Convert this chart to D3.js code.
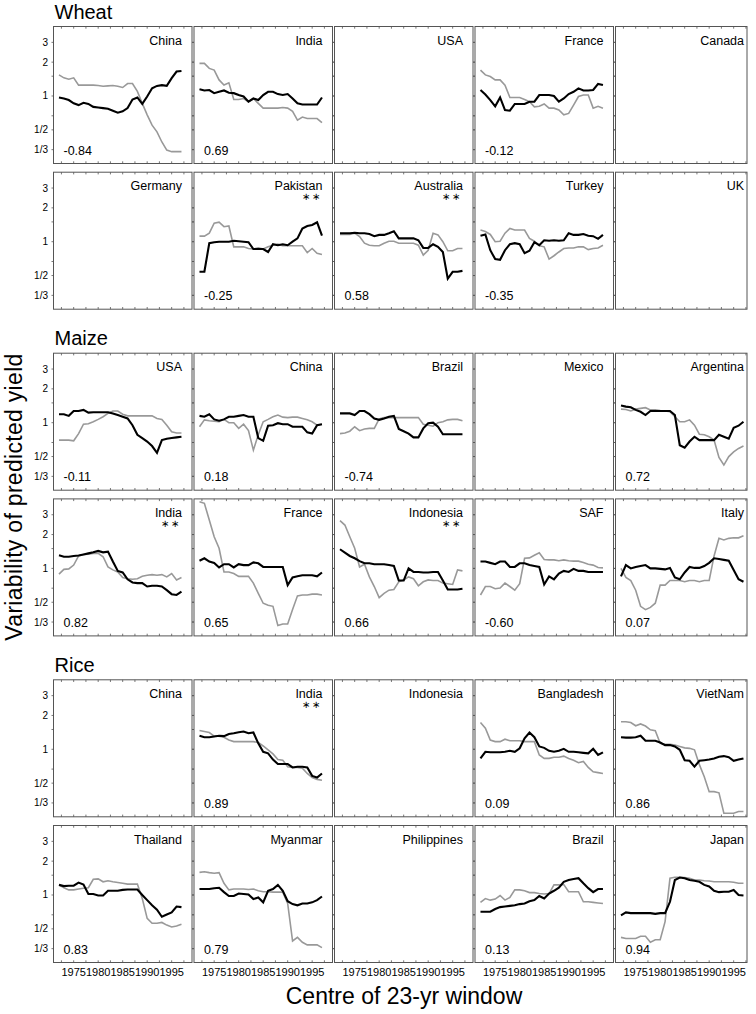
<!DOCTYPE html>
<html>
<head>
<meta charset="utf-8">
<script src="https://cdn.jsdelivr.net/npm/d3@7"></script>
<style>
  body { margin: 0; background: #fff; }
  text { font-family: "Liberation Sans", Arial, Helvetica, sans-serif; fill: #000; }
</style>
</head>
<body>
<div id="chart"></div>
<script>
// ---- data ----
const YEARS = d3.range(1972, 1998);           // centre of 23-yr window
const CROPS = ["Wheat", "Maize", "Rice"];

const wheatCountries = ["China","India","USA","France","Canada","Germany","Pakistan","Australia","Turkey","UK"];
const maizeCountries = ["USA","China","Brazil","Mexico","Argentina","India","France","Indonesia","SAF","Italy"];
const riceCountries  = ["China","India","Indonesia","Bangladesh","VietNam","Thailand","Myanmar","Philippines","Brazil","Japan"];

const wheatCorr = ["-0.84","0.69",null,"-0.12",null,null,"-0.25","0.58","-0.35",null];
const maizeCorr = ["-0.11","0.18","-0.74",null,"0.72","0.82","0.65","0.66","-0.60","0.07"];
const riceCorr  = [null,"0.89",null,"0.09","0.86","0.83","0.79",null,"0.13","0.94"];

const wheatStars = ["Pakistan","Australia"];
const maizeStars = ["India","Indonesia"];
const riceStars  = ["India"];

const wheatBlack = {
  China:    [0.97,0.95,0.92,0.86,0.83,0.87,0.85,0.80,0.79,0.78,0.77,0.74,0.71,0.73,0.78,0.93,0.97,0.85,0.99,1.17,1.23,1.25,1.23,1.44,1.65,1.67],
  India:    [1.15,1.12,1.13,1.06,1.09,1.12,1.07,1.06,1.02,0.99,0.89,0.95,0.92,1.02,1.09,1.09,1.04,1.02,1.04,0.95,0.86,0.84,0.84,0.84,0.84,0.97],
  France:   [1.13,1.03,0.92,0.81,0.97,0.75,0.74,0.85,0.85,0.85,0.89,0.89,1.02,1.02,1.02,1.00,0.89,0.95,1.04,1.09,1.17,1.12,1.12,1.13,1.28,1.25],
  Pakistan: [0.54,0.54,0.97,0.99,1.00,1.00,1.00,1.02,1.01,1.00,0.99,0.86,0.86,0.86,0.81,0.95,0.93,0.95,0.93,1.00,1.07,1.31,1.38,1.41,1.49,1.13],
  Australia:[1.19,1.19,1.19,1.20,1.19,1.19,1.17,1.12,1.15,1.15,1.19,1.24,1.07,1.07,1.07,1.07,1.03,0.88,0.88,0.95,0.90,0.81,0.47,0.54,0.54,0.55],
  Turkey:   [1.13,1.16,0.84,0.70,0.69,0.84,0.95,0.97,0.95,0.79,0.83,0.99,0.93,1.03,1.02,1.03,1.02,1.03,1.19,1.15,1.15,1.17,1.13,1.12,1.06,1.15]
};
const wheatGrey = {
  China:    [1.54,1.45,1.41,1.45,1.25,1.25,1.25,1.25,1.24,1.22,1.23,1.24,1.22,1.19,1.29,1.29,1.10,0.86,0.68,0.55,0.48,0.39,0.33,0.32,0.32,0.32],
  India:    [1.95,1.95,1.76,1.70,1.39,1.25,1.31,0.93,0.93,0.95,0.89,0.95,0.86,0.78,0.78,0.78,0.78,0.79,0.78,0.73,0.61,0.65,0.63,0.63,0.63,0.58],
  France:   [1.70,1.54,1.49,1.39,1.39,1.25,0.97,0.97,0.97,0.93,0.89,0.80,0.81,0.85,0.78,0.78,0.75,0.68,0.70,0.83,0.99,1.02,1.02,0.78,0.81,0.78],
  Pakistan: [1.12,1.12,1.19,1.46,1.49,1.36,1.38,0.90,0.90,0.90,0.87,0.86,0.88,0.86,0.90,0.93,0.95,0.92,0.92,0.92,0.92,0.92,0.80,0.87,0.79,0.77],
  Australia:[1.16,1.16,1.16,1.19,1.11,0.97,0.93,0.92,0.92,0.97,1.01,1.01,0.97,0.97,0.97,0.97,0.93,0.76,0.84,1.19,1.15,1.00,0.83,0.83,0.87,0.87],
  Turkey:   [1.27,1.23,1.16,1.00,1.01,1.19,1.31,1.27,1.27,1.27,1.07,1.01,0.92,0.90,0.70,0.75,0.81,0.87,0.88,0.88,0.90,0.90,0.85,0.87,0.88,0.93]
};

const maizeBlack = {
  USA:       [1.19,1.19,1.15,1.27,1.27,1.30,1.23,1.24,1.24,1.24,1.24,1.21,1.17,1.13,1.09,0.95,0.78,0.73,0.68,0.62,0.54,0.70,0.72,0.73,0.74,0.75],
  China:     [1.15,1.13,1.19,1.07,1.04,1.07,1.13,1.13,1.15,1.17,1.13,1.13,0.73,0.69,0.94,0.95,0.99,0.97,0.97,0.92,0.92,0.92,0.82,0.80,0.95,0.97],
  Brazil:    [1.21,1.21,1.21,1.17,1.27,1.27,1.19,1.09,1.06,1.09,1.13,1.15,0.88,0.84,0.80,0.74,0.74,0.89,0.99,1.00,0.92,0.79,0.79,0.79,0.79,0.79],
  Argentina: [1.42,1.39,1.37,1.30,1.25,1.17,1.27,1.27,1.27,1.27,1.27,1.17,0.63,0.60,0.68,0.75,0.70,0.70,0.70,0.70,0.78,0.75,0.72,0.90,0.94,1.02],
  India:     [1.31,1.27,1.27,1.29,1.30,1.33,1.36,1.39,1.43,1.39,1.41,1.15,0.95,0.92,0.80,0.75,0.74,0.74,0.69,0.70,0.70,0.69,0.64,0.59,0.58,0.62],
  France:    [1.17,1.23,1.15,1.12,1.02,1.09,1.09,1.02,1.09,1.07,1.07,1.13,1.11,1.03,1.03,1.03,1.03,1.03,0.71,0.83,0.85,0.87,0.87,0.87,0.85,0.92],
  Indonesia: [1.48,1.38,1.29,1.23,1.16,1.11,1.11,1.09,1.09,1.09,1.07,1.05,0.78,0.78,1.00,0.93,0.93,0.92,0.92,0.93,0.93,0.78,0.65,0.65,0.65,0.66],
  SAF:       [1.15,1.15,1.12,1.09,1.15,1.15,1.03,1.03,1.11,1.11,1.07,1.05,1.03,0.72,0.85,0.80,0.90,0.95,0.93,0.99,0.95,0.95,0.93,0.93,0.93,0.93],
  Italy:     [0.85,1.07,1.00,1.03,1.05,1.07,1.00,1.00,0.99,0.98,1.01,0.83,0.80,0.92,1.03,1.01,1.01,1.05,1.12,1.23,1.21,1.19,1.17,0.97,0.80,0.76]
};
const maizeGrey = {
  USA:       [0.70,0.70,0.70,0.69,0.80,0.97,0.98,1.02,1.07,1.13,1.21,1.27,1.27,1.19,1.15,1.15,1.15,1.15,1.15,1.15,1.09,1.07,0.95,0.83,0.81,0.81],
  China:     [0.92,1.06,1.04,1.03,1.02,1.07,1.00,1.00,0.89,0.97,0.85,0.57,0.78,1.02,1.07,1.13,1.17,1.12,1.11,1.12,1.12,1.09,1.06,1.02,0.95,0.97],
  Brazil:    [0.80,0.81,0.84,0.92,0.85,0.88,0.89,0.89,1.08,1.11,1.11,1.11,1.11,1.11,1.11,1.11,1.11,0.97,0.95,0.93,1.00,1.02,1.06,1.07,1.07,1.04],
  Argentina: [1.32,1.31,1.27,1.32,1.34,1.36,1.30,1.30,1.28,1.27,1.25,1.13,1.02,1.02,1.06,0.95,0.79,0.78,0.75,0.70,0.49,0.42,0.50,0.55,0.59,0.62],
  India:     [0.89,0.98,0.99,1.07,1.29,1.33,1.34,1.36,1.36,1.27,1.03,0.97,0.93,0.83,0.81,0.80,0.81,0.85,0.87,0.88,0.87,0.88,0.84,0.90,0.79,0.83],
  France:    [3.92,3.79,2.69,1.91,1.51,0.93,0.93,0.90,0.85,0.85,0.85,0.74,0.60,0.49,0.47,0.46,0.31,0.32,0.32,0.43,0.57,0.58,0.58,0.59,0.59,0.58],
  Indonesia: [2.66,2.43,1.91,1.51,1.03,1.09,0.84,0.69,0.55,0.60,0.64,0.65,0.76,0.79,0.84,0.81,0.70,0.76,0.79,0.78,0.78,0.74,0.73,0.72,0.97,0.95],
  SAF:       [0.58,0.69,0.69,0.66,0.67,0.74,0.69,0.64,0.73,1.23,1.24,1.31,1.38,1.20,1.19,1.19,1.17,1.19,1.17,1.16,1.16,1.13,1.09,1.07,1.02,1.01],
  Italy:     [1.00,0.83,0.78,0.64,0.46,0.43,0.45,0.49,0.71,0.71,0.78,0.78,0.78,0.76,0.78,0.78,0.76,0.78,0.78,1.29,1.85,1.79,1.85,1.87,1.87,1.95]
};

const riceBlack = {
  India:      [1.32,1.28,1.28,1.30,1.32,1.31,1.37,1.39,1.42,1.44,1.39,1.41,1.13,0.95,0.92,0.81,0.74,0.74,0.74,0.69,0.70,0.70,0.69,0.58,0.56,0.61],
  Bangladesh: [0.83,0.95,0.94,0.94,0.94,0.95,0.97,0.95,1.02,1.25,1.41,1.28,1.06,1.03,0.97,0.95,0.97,1.01,0.95,0.95,0.94,0.93,0.92,1.01,0.89,0.94],
  VietNam:    [1.28,1.27,1.27,1.28,1.32,1.19,1.19,1.19,1.15,1.09,1.09,1.06,0.99,0.80,0.79,0.70,0.79,0.80,0.81,0.83,0.86,0.87,0.85,0.79,0.81,0.83],
  Thailand:   [1.23,1.20,1.21,1.21,1.29,1.24,1.02,1.02,0.99,0.99,1.09,1.09,1.09,1.11,1.12,1.12,1.12,1.00,0.90,0.81,0.74,0.64,0.67,0.70,0.79,0.78],
  Myanmar:    [1.13,1.13,1.13,1.15,1.16,1.06,0.98,0.98,1.03,1.02,1.01,0.92,0.95,0.86,1.09,1.13,1.23,1.09,0.88,0.83,0.81,0.84,0.84,0.86,0.90,0.97],
  Brazil:     [0.71,0.71,0.71,0.75,0.78,0.79,0.80,0.81,0.83,0.84,0.88,0.90,0.98,0.93,1.03,1.09,1.16,1.31,1.36,1.39,1.41,1.27,1.15,1.06,1.13,1.13],
  Japan:      [0.66,0.70,0.69,0.69,0.69,0.69,0.69,0.68,0.69,0.69,0.87,1.36,1.43,1.41,1.36,1.34,1.31,1.23,1.19,1.09,1.06,1.07,1.07,1.11,1.00,0.99]
};
const riceGrey = {
  India:      [1.47,1.44,1.41,1.31,1.31,1.28,1.21,1.17,1.17,1.17,1.17,1.17,1.15,1.07,0.99,0.91,0.81,0.80,0.70,0.69,0.69,0.68,0.61,0.56,0.54,0.53],
  Bangladesh: [1.73,1.54,1.21,1.17,1.17,1.23,1.19,1.19,1.19,1.17,1.17,1.17,0.89,0.83,0.83,0.85,0.85,0.87,0.83,0.80,0.76,0.78,0.69,0.63,0.62,0.61],
  VietNam:    [1.76,1.76,1.73,1.62,1.68,1.61,1.49,1.46,1.13,1.11,1.11,1.09,1.06,1.03,1.02,0.99,0.73,0.57,0.42,0.42,0.41,0.27,0.27,0.27,0.28,0.28],
  Thailand:   [1.23,1.16,1.11,1.11,1.13,1.15,1.16,1.38,1.39,1.31,1.34,1.31,1.29,1.27,1.25,1.25,1.25,0.93,0.62,0.56,0.56,0.57,0.54,0.52,0.53,0.55],
  Myanmar:    [1.59,1.61,1.58,1.56,1.58,1.27,1.11,1.13,1.13,1.13,1.12,1.13,1.09,1.07,1.07,1.06,1.06,1.06,0.84,0.39,0.42,0.38,0.36,0.36,0.36,0.34],
  Brazil:     [0.86,0.93,0.90,0.92,0.99,0.90,0.95,1.11,1.11,1.09,1.05,1.05,1.03,1.02,1.03,1.23,1.23,1.24,1.07,1.07,1.07,0.87,0.87,0.86,0.85,0.84],
  Japan:      [0.42,0.41,0.41,0.41,0.43,0.43,0.38,0.40,0.40,0.58,1.41,1.44,1.44,1.43,1.41,1.36,1.36,1.34,1.33,1.31,1.31,1.31,1.31,1.30,1.27,1.27]
};

const Y_TICKS = [1/3, 1/2, 1, 2, 3];
const Y_TICK_LABELS = ["1/3", "1/2", "1", "2", "3"];
const Y_MINOR = [2/3, 3/2];
const X_TICKS = d3.range(1972.5, 1998, 2.5);
const X_LABELS = [1975, 1980, 1985, 1990, 1995];

// ---- layout ----
const WIDTH = 756, HEIGHT = 1014;
const LEFT0 = 53.5, COL_PITCH = 140.5, PANEL_W = 138.5, PANEL_H = 137;
const BLOCK_TOP = [26.5, 353.2, 679.8];
const ROW_OFFSET = 145.7;
const LAST_COL_W = 131.5;   // right-most column is cut off in the reference

const blocks = [
  {name: CROPS[0], countries: wheatCountries, corr: wheatCorr, stars: wheatStars, black: wheatBlack, grey: wheatGrey},
  {name: CROPS[1], countries: maizeCountries, corr: maizeCorr, stars: maizeStars, black: maizeBlack, grey: maizeGrey},
  {name: CROPS[2], countries: riceCountries,  corr: riceCorr,  stars: riceStars,  black: riceBlack,  grey: riceGrey}
];

const svg = d3.select("#chart").append("svg")
  .attr("width", WIDTH).attr("height", HEIGHT);

const x = d3.scaleLinear().domain([1970.88, 1999.15]).range([0, PANEL_W]);
const y = d3.scaleLog().domain([0.251, 4.15]).range([PANEL_H, 0]);

const line = d3.line()
  .x((d, i) => x(YEARS[i]))
  .y(d => y(d));

const defs = svg.append("defs");
[PANEL_W, LAST_COL_W].forEach((w, i) => {
  defs.append("clipPath").attr("id", "clip" + i)
    .append("rect").attr("width", w).attr("height", PANEL_H);
});

blocks.forEach((b, bi) => {
  svg.append("text")
    .attr("x", LEFT0 + 1).attr("y", BLOCK_TOP[bi] - 8)
    .style("font-size", "20px")
    .text(b.name);

  b.countries.forEach((c, k) => {
    const row = Math.floor(k / 5), col = k % 5;
    const last = col === 4;
    const fw = last ? LAST_COL_W : PANEL_W;
    const isBottom = bi === 2 && row === 1;
    const g = svg.append("g")
      .attr("transform", "translate(" + (LEFT0 + col * COL_PITCH) + "," +
            (BLOCK_TOP[bi] + row * ROW_OFFSET) + ")");

    // x ticks, inward on top and bottom
    X_TICKS.forEach(t => {
      g.append("line").attr("x1", x(t)).attr("x2", x(t)).attr("y1", 0).attr("y2", 2.2)
        .attr("stroke", "#555").attr("stroke-width", 0.8);
      g.append("line").attr("x1", x(t)).attr("x2", x(t)).attr("y1", PANEL_H).attr("y2", PANEL_H - 2.2)
        .attr("stroke", "#555").attr("stroke-width", 0.8);
    });
    // y ticks, outward on left (and right)
    Y_TICKS.concat(Y_MINOR).forEach(t => {
      g.append("line").attr("x1", -2).attr("x2", 0).attr("y1", y(t)).attr("y2", y(t))
        .attr("stroke", "#555").attr("stroke-width", 0.8);
      if (!last) {
        g.append("line").attr("x1", fw).attr("x2", fw + 2).attr("y1", y(t)).attr("y2", y(t))
          .attr("stroke", "#555").attr("stroke-width", 0.8);
      }
    });

    if (col === 0) {
      g.selectAll(".ylab").data(Y_TICKS).enter().append("text")
        .attr("x", -5.5).attr("y", d => y(d)).attr("dy", "0.35em")
        .attr("text-anchor", "end").style("font-size", "10px")
        .text((d, i) => Y_TICK_LABELS[i]);
    }
    if (isBottom) {
      g.selectAll(".xlab").data(X_LABELS).enter().append("text")
        .attr("x", d => x(d)).attr("y", PANEL_H + 13)
        .attr("text-anchor", "middle").style("font-size", "11px")
        .text(d => d);
    }

    const inner = g.append("g").attr("clip-path", "url(#clip" + (last ? 1 : 0) + ")");
    if (b.grey[c]) {
      inner.append("path").datum(b.grey[c])
        .attr("d", line).attr("fill", "none")
        .attr("stroke", "#999").attr("stroke-width", 1.6);
    }
    if (b.black[c]) {
      inner.append("path").datum(b.black[c])
        .attr("d", line).attr("fill", "none")
        .attr("stroke", "#000").attr("stroke-width", 2.1);
    }

    g.append("rect").attr("width", fw).attr("height", PANEL_H)
      .attr("fill", "none").attr("stroke", "#555").attr("stroke-width", 1);

    g.append("text")
      .attr("x", 128.5).attr("y", 18)
      .attr("text-anchor", "end").style("font-size", "12.5px")
      .text(c);
    if (b.stars.includes(c)) {
      g.append("text")
        .attr("x", 126).attr("y", 28)
        .attr("text-anchor", "end").style("font-size", "10px")
        .text("\u2217\u2009\u2217");
    }
    if (b.corr[k] !== null) {
      g.append("text")
        .attr("x", 10).attr("y", 128)
        .style("font-size", "12.5px")
        .text(b.corr[k]);
    }
  });
});

// axis titles
svg.append("text")
  .attr("transform", "translate(21.5," + 497 + ") rotate(-90)")
  .attr("text-anchor", "middle").style("font-size", "23px")
  .attr("letter-spacing", "0.3px")
  .text("Variability of predicted yield");

svg.append("text")
  .attr("x", 404).attr("y", 1004)
  .attr("text-anchor", "middle").style("font-size", "23px")
  .text("Centre of 23-yr window");
</script>
</body>
</html>
